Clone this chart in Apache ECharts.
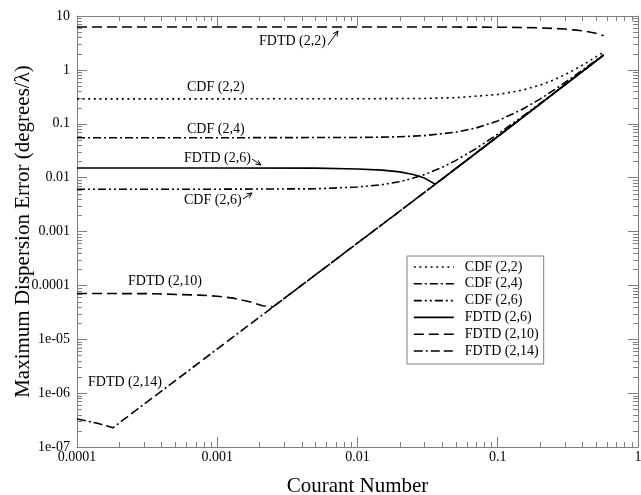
<!DOCTYPE html>
<html>
<head>
<meta charset="utf-8">
<script src="https://cdn.jsdelivr.net/npm/echarts@6/dist/echarts.min.js"></script>
<style>
  html, body { margin: 0; padding: 0; background: #fff; }
  #chart { width: 641px; height: 495px; }
</style>
</head>
<body>
<div id="chart"></div>
<script>
// Tick labels for the two logarithmic axes
const xTickLabels = ['0.0001', '0.001', '0.01', '0.1', '1'];
const yTickLabels = ['1e-07', '1e-06', '1e-05', '0.0001', '0.001', '0.01', '0.1', '1', '10'];

const xRange = [1e-4, 1];
const yRange = [1e-7, 10];

// Maximum dispersion error vs. Courant number, [courant, error] pairs
const cdf22 = [
  [1e-4, 0.29], [1e-3, 0.29], [0.01, 0.291], [0.03, 0.295], [0.05, 0.305],
  [0.1, 0.348], [0.15, 0.42], [0.2, 0.52], [0.25, 0.65], [0.3, 0.81],
  [0.35, 1.0], [0.4, 1.22], [0.45, 1.46], [0.5, 1.74], [0.569, 2.16]
];
const cdf24 = [
  [1e-4, 0.055], [1e-3, 0.055], [0.01, 0.0556], [0.02, 0.0573], [0.03, 0.0603],
  [0.05, 0.0696], [0.07, 0.0835], [0.1, 0.113], [0.15, 0.186], [0.2, 0.287],
  [0.25, 0.418], [0.3, 0.577], [0.35, 0.766], [0.4, 0.983], [0.45, 1.23],
  [0.5, 1.505], [0.569, 1.925]
];
const cdf26 = [
  [1e-4, 0.0061], [1e-3, 0.0061], [0.005, 0.0062], [0.01, 0.0067], [0.015, 0.0074],
  [0.02, 0.0084], [0.025, 0.0098], [0.03, 0.0114], [0.04, 0.0154], [0.05, 0.0207],
  [0.07, 0.0346], [0.1, 0.0641], [0.15, 0.137], [0.2, 0.238], [0.3, 0.528],
  [0.4, 0.934], [0.5, 1.456], [0.569, 1.876]
];
const fdtd26 = [
  [1e-4, 0.0151], [1e-3, 0.0151], [0.005, 0.0150], [0.01, 0.0145], [0.015, 0.0138],
  [0.02, 0.0128], [0.025, 0.0114], [0.03, 0.0098], [0.0359, 0.00755],
  [0.1, 0.058], [0.2, 0.232], [0.3, 0.522], [0.4, 0.928], [0.5, 1.45], [0.569, 1.87]
];
const fdtd210 = [
  [1e-4, 7.08e-5], [3.3e-4, 7.02e-5], [7.5e-4, 6.6e-5], [1e-3, 6.3e-5], [1.3e-3, 5.8e-5],
  [1.7e-3, 4.95e-5], [2.1e-3, 4.2e-5], [2.5e-3, 3.99e-5],
  [0.0359, 7.55e-3], [0.1, 0.058], [0.2, 0.232], [0.3, 0.522], [0.4, 0.928],
  [0.5, 1.45], [0.569, 1.87]
];
const fdtd214 = [
  [1e-4, 3.3e-7], [1.2e-4, 3.0e-7], [1.4e-4, 2.75e-7], [1.6e-4, 2.5e-7], [1.8e-4, 2.27e-7],
  [2.5e-3, 3.99e-5], [0.0359, 7.55e-3], [0.1, 0.058], [0.2, 0.232], [0.3, 0.522],
  [0.4, 0.928], [0.5, 1.45], [0.569, 1.87]
];
const fdtd22 = [
  [1e-4, 6.25], [0.01, 6.25], [0.05, 6.23], [0.1, 6.19], [0.15, 6.12], [0.2, 6.02],
  [0.25, 5.89], [0.3, 5.72], [0.35, 5.53], [0.4, 5.3], [0.45, 5.05], [0.5, 4.77],
  [0.569, 4.3]
];

const FONT = '"Liberation Serif", "Times New Roman", serif';
const FRAME = '#808080';

// Line styles: dash arrays for each scheme
const lineDefs = [
  { name: 'CDF (2,2)',   data: cdf22,   dash: [2, 3.6] },
  { name: 'CDF (2,4)',   data: cdf24,   dash: [8, 3, 2, 3] },
  { name: 'CDF (2,6)',   data: cdf26,   dash: [8, 3, 2, 3, 2, 3] },
  { name: 'FDTD (2,6)',  data: fdtd26,  dash: 'solid' },
  { name: 'FDTD (2,10)', data: fdtd210, dash: [10, 5] },
  { name: 'FDTD (2,14)', data: fdtd214, dash: [9, 3, 2, 3, 9, 4] }
];

const lineSeries = lineDefs.map(d => ({
  name: d.name,
  type: 'line',
  data: d.data,
  symbol: 'none',
  smooth: false,
  silent: true,
  lineStyle: { color: '#000', width: 1.6, type: d.dash },
  itemStyle: { color: '#000' },
  z: 3
}));

// FDTD (2,2) drawn without a legend entry
lineSeries.push({
  name: 'FDTD (2,2)',
  type: 'line',
  data: fdtd22,
  symbol: 'none',
  silent: true,
  lineStyle: { color: '#000', width: 1.6, type: [10, 5] },
  z: 3
});

// Minor tick positions (2..9 in each decade)
const xMinor = [];
for (let e = -4; e < 0; e++) for (let m = 2; m <= 9; m++) xMinor.push([m * Math.pow(10, e), yRange[0]]);
const yMinor = [];
for (let e = -7; e < 1; e++) for (let m = 2; m <= 9; m++) yMinor.push([xRange[0], m * Math.pow(10, e)]);

const MINOR_LEN = 5;
function tickLine(x1, y1, x2, y2) {
  return { type: 'line', shape: { x1, y1, x2, y2 }, style: { stroke: FRAME, lineWidth: 1 } };
}
lineSeries.push({
  type: 'custom',
  silent: true,
  data: xMinor,
  clip: false,
  z: 2,
  renderItem: (params, api) => {
    const v = api.value(0);
    const b = api.coord([v, yRange[0]]);
    const t = api.coord([v, yRange[1]]);
    const x = Math.round(b[0]) + 0.5;
    return { type: 'group', children: [
      tickLine(x, b[1], x, b[1] - MINOR_LEN),
      tickLine(x, t[1], x, t[1] + MINOR_LEN)
    ] };
  }
});
lineSeries.push({
  type: 'custom',
  silent: true,
  data: yMinor,
  clip: false,
  z: 2,
  renderItem: (params, api) => {
    const v = api.value(1);
    const l = api.coord([xRange[0], v]);
    const r = api.coord([xRange[1], v]);
    const y = Math.round(l[1]) + 0.5;
    return { type: 'group', children: [
      tickLine(l[0], y, l[0] + MINOR_LEN, y),
      tickLine(r[0], y, r[0] - MINOR_LEN, y)
    ] };
  }
});

function decadeLabel(labels, min) {
  return v => {
    const i = Math.round(Math.log10(v)) - Math.round(Math.log10(min));
    return labels[i] !== undefined ? labels[i] : '';
  };
}

const baseAxis = {
  type: 'log',
  logBase: 10,
  interval: 1,
  splitLine: { show: false },
  axisLine: { show: true, lineStyle: { color: FRAME, width: 1 } },
  axisTick: { show: true, inside: true, length: 10, lineStyle: { color: FRAME, width: 1 } },
  minorTick: { show: false }
};

// Text annotations with small open-headed arrows
function arrow(x1, y1, x2, y2) {
  const a = Math.atan2(y2 - y1, x2 - x1), L = 5, w = 2.4;
  const bx = x2 - L * Math.cos(a), by = y2 - L * Math.sin(a);
  const px = -Math.sin(a) * w, py = Math.cos(a) * w;
  return [
    { type: 'line', shape: { x1, y1, x2, y2 }, style: { stroke: '#000', lineWidth: 1 } },
    { type: 'polyline', shape: { points: [[bx + px, by + py], [x2, y2], [bx - px, by - py]] },
      style: { stroke: '#000', lineWidth: 1, fill: null } }
  ];
}
function note(text, x, y) {
  return { type: 'text', x, y, style: { text, font: '14px ' + FONT, fill: '#000', textVerticalAlign: 'middle' } };
}

const annotations = [
  note('FDTD (2,2)', 259, 41),
  ...arrow(328, 45, 338, 31),
  note('CDF (2,2)', 187, 87),
  note('CDF (2,4)', 187, 129),
  note('FDTD (2,6)', 184, 158),
  ...arrow(252, 159, 261, 165),
  note('CDF (2,6)', 184, 200),
  ...arrow(243, 199, 252, 193),
  note('FDTD (2,10)', 128, 281),
  note('FDTD (2,14)', 88, 382)
];

const chart = echarts.init(document.getElementById('chart'), null, { renderer: 'canvas' });
chart.setOption({
  animation: false,
  backgroundColor: '#fff',
  textStyle: { fontFamily: FONT },
  grid: { left: 77, right: 3, top: 16, bottom: 48, containLabel: false, outerBoundsMode: 'none' },
  legend: {
    data: lineDefs.map(d => d.name),
    orient: 'vertical',
    left: 407,
    top: 256,
    padding: [3, 5, 5, 6],
    itemWidth: 40,
    itemHeight: 16,
    itemGap: 0.8,
    backgroundColor: '#fff',
    borderColor: FRAME,
    borderWidth: 1,
    borderRadius: 0,
    selectedMode: false,
    itemStyle: { opacity: 0, borderWidth: 0 },
    lineStyle: { opacity: 1, width: 1.6 },
    textStyle: { fontFamily: FONT, fontSize: 14, color: '#000', lineHeight: 16, padding: [0, 0, 0, 6] }
  },
  xAxis: [
    Object.assign({}, baseAxis, {
      position: 'bottom',
      min: xRange[0], max: xRange[1],
      name: 'Courant Number',
      nameLocation: 'middle',
      nameGap: 29,
      nameMoveOverlap: false,
      nameTextStyle: { fontFamily: FONT, fontSize: 21, color: '#000' },
      axisLabel: { show: true, margin: 3, fontFamily: FONT, fontSize: 14, color: '#000',
        formatter: decadeLabel(xTickLabels, xRange[0]) }
    }),
    Object.assign({}, baseAxis, {
      position: 'top',
      min: xRange[0], max: xRange[1],
      axisLabel: { show: false }
    })
  ],
  yAxis: [
    Object.assign({}, baseAxis, {
      position: 'left',
      min: yRange[0], max: yRange[1],
      name: 'Maximum Dispersion Error (degrees/λ)',
      nameLocation: 'middle',
      nameGap: 43,
      nameRotate: 90,
      nameMoveOverlap: false,
      nameTextStyle: { fontFamily: FONT, fontSize: 21, color: '#000' },
      axisLabel: { show: true, margin: 7, fontFamily: FONT, fontSize: 14, color: '#000',
        formatter: decadeLabel(yTickLabels, yRange[0]) }
    }),
    Object.assign({}, baseAxis, {
      position: 'right',
      min: yRange[0], max: yRange[1],
      axisLabel: { show: false }
    })
  ],
  series: lineSeries,
  graphic: annotations
});
</script>
</body>
</html>
